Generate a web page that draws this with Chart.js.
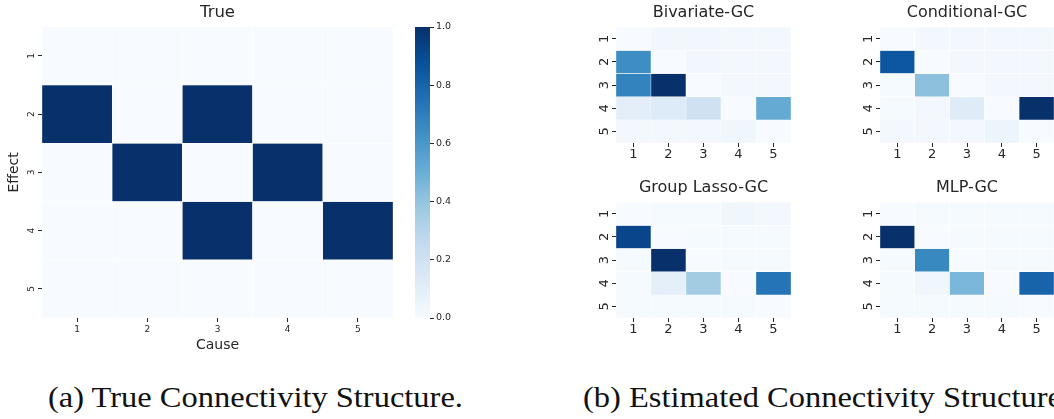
<!DOCTYPE html>
<html>
<head>
<meta charset="utf-8">
<script src="https://cdn.jsdelivr.net/npm/chart.js@4.4.0/dist/chart.umd.min.js"></script>
<style>
  body { margin: 0; width: 1054px; height: 419px; overflow: hidden; background: #fff; position: relative; }
  canvas { position: absolute; }
  .cap { position: absolute; font-family: "Liberation Serif", serif; font-size: 29px; color: #111; white-space: nowrap; line-height: 1; transform: scaleX(1.12); transform-origin: left top; }
</style>
</head>
<body>
<canvas id="cTrue"></canvas>
<canvas id="cBar"></canvas>
<canvas id="cBiv"></canvas>
<canvas id="cCond"></canvas>
<canvas id="cLasso"></canvas>
<canvas id="cMlp"></canvas>
<div class="cap" style="left:48px; top:383px;">(a) True Connectivity Structure.</div>
<div class="cap" style="left:583px; top:383px;">(b) Estimated Connectivity Structure.</div>
<script>
// axis labels
const causes = ['1', '2', '3', '4', '5'];
const effects = ['1', '2', '3', '4', '5'];
const cbarTicks = [0, 0.2, 0.4, 0.6, 0.8, 1.0];

// rows = effect, columns = cause
const trueMat = [
  [0, 0, 0, 0, 0],
  [1, 0, 1, 0, 0],
  [0, 1, 0, 1, 0],
  [0, 0, 1, 0, 1],
  [0, 0, 0, 0, 0]
];
const bivariateMat = [
  [0.00, 0.03, 0.03, 0.02, 0.02],
  [0.64, 0.00, 0.03, 0.02, 0.02],
  [0.68, 1.00, 0.00, 0.02, 0.02],
  [0.10, 0.13, 0.20, 0.00, 0.52],
  [0.02, 0.02, 0.02, 0.04, 0.00]
];
const conditionalMat = [
  [0.00, 0.02, 0.02, 0.02, 0.02],
  [0.85, 0.00, 0.02, 0.02, 0.02],
  [0.01, 0.42, 0.00, 0.02, 0.02],
  [0.01, 0.02, 0.12, 0.00, 1.00],
  [0.02, 0.02, 0.02, 0.05, 0.00]
];
const lassoMat = [
  [0.00, 0.01, 0.01, 0.04, 0.02],
  [0.92, 0.00, 0.01, 0.01, 0.01],
  [0.01, 1.00, 0.00, 0.01, 0.01],
  [0.01, 0.09, 0.36, 0.00, 0.74],
  [0.01, 0.01, 0.01, 0.01, 0.00]
];
const mlpMat = [
  [0.00, 0.01, 0.01, 0.01, 0.01],
  [1.00, 0.00, 0.01, 0.01, 0.01],
  [0.01, 0.66, 0.00, 0.01, 0.01],
  [0.01, 0.04, 0.46, 0.00, 0.80],
  [0.01, 0.01, 0.01, 0.01, 0.00]
];

// matplotlib "Blues"
const blues = ['#f7fbff', '#deebf7', '#c6dbef', '#9ecae1', '#6baed6', '#4292c6', '#2171b5', '#08519c', '#08306b'];
function hex2rgb(h) { return [1, 3, 5].map(i => parseInt(h.substr(i, 2), 16)); }
function blue(v) {
  v = Math.max(0, Math.min(1, v));
  const p = v * (blues.length - 1);
  const i = Math.min(Math.floor(p), blues.length - 2);
  const t = p - i;
  const a = hex2rgb(blues[i]), b = hex2rgb(blues[i + 1]);
  const c = a.map((x, k) => Math.round(x + (b[k] - x) * t));
  return 'rgb(' + c.join(',') + ')';
}

const txt = '#262626';
Chart.defaults.font.family = 'DejaVu Sans';

function place(id, x, y, w, h) {
  const cv = document.getElementById(id);
  cv.width = w; cv.height = h;
  cv.style.left = x + 'px'; cv.style.top = y + 'px';
  return cv;
}

function heatmap(id, box, title, mat, o) {
  const cv = place(id, box.x, box.y, box.w, box.h);
  return new Chart(cv, {
    type: 'bar',
    data: {
      labels: causes,
      datasets: mat.map((row, i) => ({
        label: effects[i],
        data: row.map(() => 1),
        backgroundColor: row.map(blue),
        borderColor: '#ffffff',
        borderWidth: 0.5,
        borderSkipped: false,
        barPercentage: 1,
        categoryPercentage: 1
      }))
    },
    options: {
      responsive: false,
      animation: false,
      events: [],
      layout: { padding: { left: 0, right: o.padR, top: 0, bottom: 0 } },
      plugins: {
        legend: { display: false },
        tooltip: { enabled: false },
        title: {
          display: true, text: title, fullSize: false, color: txt,
          font: { size: o.titleSize, weight: 'normal' },
          padding: { top: o.titleTop, bottom: o.titleBottom }
        }
      },
      scales: {
        x: {
          stacked: true,
          grid: { display: true, drawOnChartArea: false, offset: false, tickLength: 4, tickColor: txt, tickWidth: 1 },
          border: { display: false },
          ticks: { color: txt, font: { size: o.tickSize }, padding: o.xPad, maxRotation: 0 },
          title: { display: !!o.xTitle, text: o.xTitle, color: txt, font: { size: 14 }, padding: { top: 0, bottom: 6 } },
          afterFit: s => { s.height = o.xH; }
        },
        y: {
          stacked: true, reverse: true, min: 0, max: 5,
          afterBuildTicks: s => { s.ticks = effects.map((e, i) => ({ value: i + 0.5 })); },
          grid: { display: true, drawOnChartArea: false, tickLength: 4, tickColor: txt, tickWidth: 1 },
          border: { display: false },
          ticks: {
            color: txt, font: { size: o.tickSize }, padding: o.yPad,
            minRotation: 90, maxRotation: 90, crossAlign: 'center',
            callback: (v, i) => effects[i]
          },
          title: { display: !!o.yTitle, text: o.yTitle, color: txt, font: { size: 14 }, padding: { top: 6, bottom: 0 } },
          afterFit: s => { s.width = o.yW; }
        }
      }
    }
  });
}

// big "True" panel
heatmap('cTrue', { x: 0, y: 0, w: 400, h: 360 }, 'True', trueMat,
  { padR: 7, titleSize: 16.5, titleTop: 3, titleBottom: 4, tickSize: 9, xPad: 2, yPad: 3, xH: 42, yW: 42, xTitle: 'Cause', yTitle: 'Effect' });

// colorbar
const cb = place('cBar', 400, 0, 70, 340);
new Chart(cb, {
  type: 'bar',
  data: {
    labels: ['cbar'],
    datasets: [{
      data: [[cbarTicks[0], cbarTicks[cbarTicks.length - 1]]],
      backgroundColor: ctx => {
        const a = ctx.chart.chartArea;
        if (!a) return blues[4];
        const g = ctx.chart.ctx.createLinearGradient(0, a.bottom, 0, a.top);
        blues.forEach((c, i) => g.addColorStop(i / (blues.length - 1), c));
        return g;
      },
      borderWidth: 0,
      barPercentage: 1,
      categoryPercentage: 1
    }]
  },
  options: {
    responsive: false,
    animation: false,
    events: [],
    layout: { padding: { left: 15, right: 0, top: 27, bottom: 22 } },
    plugins: { legend: { display: false }, tooltip: { enabled: false } },
    scales: {
      x: { display: false },
      y: {
        position: 'right', min: 0, max: 1,
        afterBuildTicks: s => { s.ticks = cbarTicks.map(v => ({ value: v })); },
        grid: { display: true, drawOnChartArea: false, tickLength: 4, tickColor: txt },
        border: { display: false },
        ticks: { color: txt, font: { size: 9.5 }, padding: 2, callback: v => v.toFixed(1) },
        afterFit: s => { s.width = 40; }
      }
    }
  }
});

// estimated panels
const small = { titleSize: 16, titleTop: 3, titleBottom: 5, tickSize: 13, xPad: 0, yPad: 3 };
heatmap('cBiv', { x: 580, y: 0, w: 230, h: 170 }, 'Bivariate-GC', bivariateMat,
  Object.assign({}, small, { padR: 19, xH: 27, yW: 36 }));
heatmap('cCond', { x: 840, y: 0, w: 214, h: 170 }, 'Conditional-GC', conditionalMat,
  Object.assign({}, small, { padR: 0, xH: 27, yW: 40 }));
heatmap('cLasso', { x: 580, y: 175, w: 230, h: 175 }, 'Group Lasso-GC', lassoMat,
  Object.assign({}, small, { padR: 19, xH: 32, yW: 36 }));
heatmap('cMlp', { x: 840, y: 175, w: 214, h: 175 }, 'MLP-GC', mlpMat,
  Object.assign({}, small, { padR: 0, xH: 32, yW: 40 }));
</script>
</body>
</html>
